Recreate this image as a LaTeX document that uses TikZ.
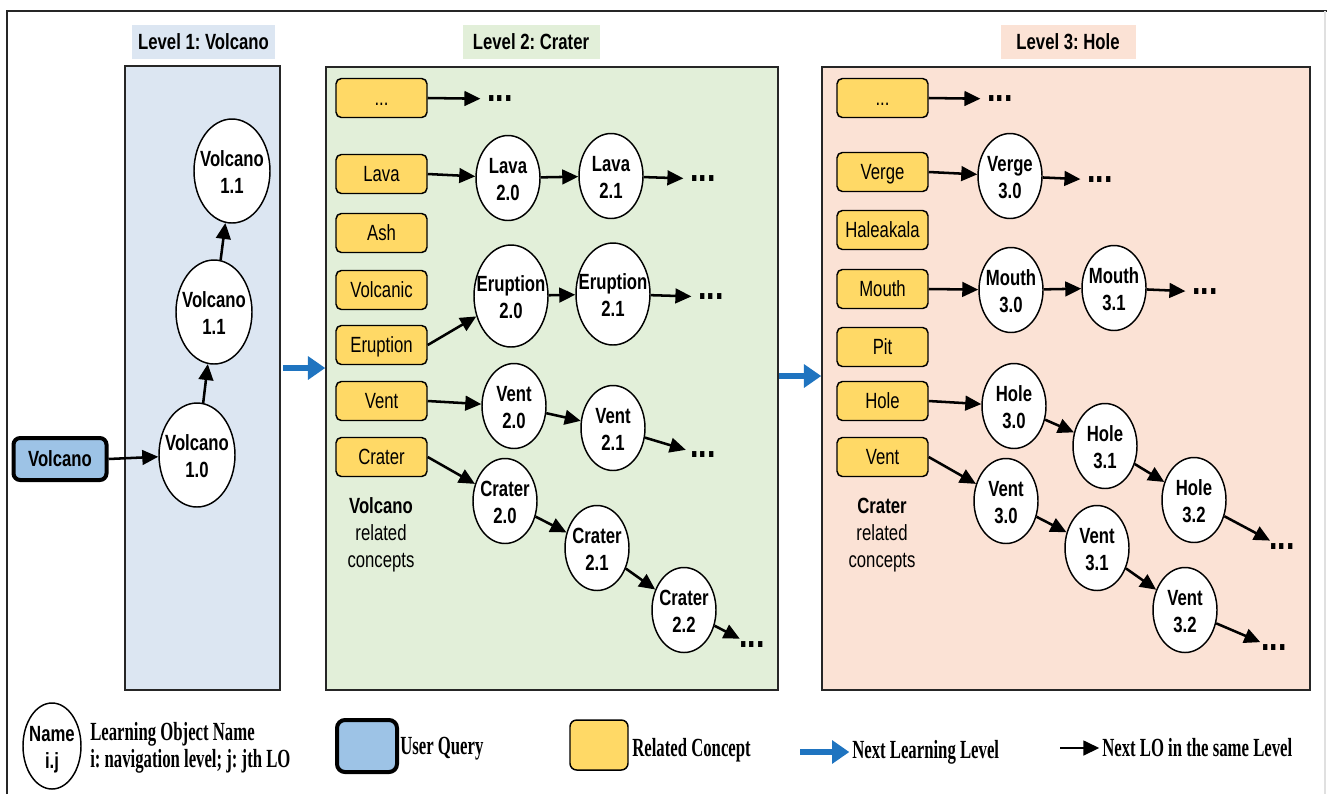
\documentclass[tikz,border=0pt]{standalone}
\usepackage{fontspec}
\setmainfont{Liberation Sans}
\newfontfamily\nar[FakeStretch=0.76]{Liberation Sans}
\newfontfamily\legf[FakeStretch=0.64]{Liberation Serif}
\usetikzlibrary{arrows.meta,shapes.geometric}
\definecolor{qblue}{HTML}{9DC3E6}
\definecolor{cyel}{HTML}{FFD966}
\definecolor{pblue}{HTML}{DCE6F2}
\definecolor{pgreen}{HTML}{E2EFD9}
\definecolor{ppeach}{HTML}{FBE2D5}
\definecolor{nblue}{HTML}{1F74C0}
\newcommand\lotxt[2]{\makebox[0pt]{\raisebox{-0.42em}[0pt][0pt]{\begin{tabular}[c]{@{}c@{}}#1\\#2\end{tabular}}}}
\frenchspacing
\begin{document}
\begin{tikzpicture}[x=0.75pt,y=-0.75pt,
  every node/.style={font=\nar\fontsize{16.5}{20.25}\selectfont},
  panel/.style={rectangle,draw=black!85,line width=1.1pt,inner sep=0},
  ttl/.style={rectangle,inner sep=0,minimum height=25.5pt,font=\nar\bfseries\fontsize{16.5}{20}\selectfont},
  lo/.style={ellipse,draw,line width=1.1pt,fill=white,inner sep=0,
     minimum width=48pt,minimum height=63.75pt,font=\nar\bfseries\fontsize{16.5}{20}\selectfont},
  lobig/.style={lo,minimum width=57pt,minimum height=78pt},
  loer/.style={lo,minimum width=55.5pt,minimum height=76.5pt},
  concept/.style={rectangle,rounded corners=4pt,draw,line width=1.1pt,fill=cyel,inner sep=0,
     minimum width=68.25pt,minimum height=29.25pt,text height=11.8pt,text depth=0pt},
  query/.style={rectangle,rounded corners=5pt,draw,line width=3pt,fill=qblue,inner sep=0},
  dots/.style={inner sep=0,font=\nar\bfseries\fontsize{30}{30}\selectfont},
  arr/.style={-{Triangle[length=12pt,width=11pt]},line width=1.9pt},
  darr/.style={arr,shorten >=5pt},
  barr/.style={-{Triangle[length=13pt,width=17pt]},line width=4.8pt,draw=nblue},
  rel/.style={align=center,inner sep=0},
  leg/.style={inner sep=0,anchor=west,font=\legf\bfseries\fontsize{19.6}{20.25}\selectfont}
]
\useasboundingbox (0,0) rectangle (1327,794);
% outer frame
\draw[line width=1.4pt,black!85] (7,794) -- (7,11) -- (1327,11);
\draw[line width=0.8pt,black!12] (1325,11) -- (1325,794);

% panels
\node[panel,fill=pblue,minimum width=116.25pt,minimum height=468pt] (p1) at (202.5,378) {};
\node[panel,fill=pgreen,minimum width=339pt,minimum height=467.25pt] (p2) at (552,378.5) {};
\node[panel,fill=ppeach,minimum width=366pt,minimum height=467.25pt] (p3) at (1066,378.5) {};

% titles
\node[ttl,fill=pblue,minimum width=107.25pt] (t1) at (203.5,42) {Level 1: Volcano};
\node[ttl,fill=pgreen,minimum width=102.75pt] (t2) at (531,42) {Level 2: Crater};
\node[ttl,fill=ppeach,minimum width=101.25pt] (t3) at (1068,42) {Level 3: Hole};

% next level arrows
\coordinate (b1) at (283,368);
\draw[barr] (b1) -- (b1 -| p2.west);
\coordinate (b2) at (779,376);
\draw[barr] (b2) -- (b2 -| p3.west);

% level 1
\node[query,minimum width=69.75pt,minimum height=31.5pt,font=\nar\bfseries\fontsize{16.5}{20}\selectfont] (q) at (60,459) {Volcano};
\node[lobig] (v10) at (197,455) {\lotxt{Volcano}{1.0}};
\node[lobig] (v11a) at (214,312) {\lotxt{Volcano}{1.1}};
\node[lobig] (v11b) at (232,171) {\lotxt{Volcano}{1.1}};
\draw[arr] (q.east) -- (v10);
\draw[arr] (v10) -- (v11a);
\draw[arr] (v11a) -- (v11b);

% level 2 concepts
\node[concept] (c2a) at (381.5,98) {...};
\node[concept] (c2b) at (381.5,174) {Lava};
\node[concept] (c2c) at (381.5,233) {Ash};
\node[concept] (c2d) at (381.5,290) {Volcanic};
\node[concept] (c2e) at (381.5,345) {Eruption};
\node[concept] (c2f) at (381.5,401) {Vent};
\node[concept] (c2g) at (381.5,457) {Crater};
\node[rel] (rc2) at (381,535) {\textbf{Volcano}\\related\\concepts};

% level 2 LOs
\node[lo] (lava20) at (508,178) {\lotxt{Lava}{2.0}};
\node[lo] (lava21) at (611,176) {\lotxt{Lava}{2.1}};
\node[loer] (er20) at (511,296) {\lotxt{Eruption}{2.0}};
\node[loer] (er21) at (613,294) {\lotxt{Eruption}{2.1}};
\node[lo] (ve20) at (514,406) {\lotxt{Vent}{2.0}};
\node[lo] (ve21) at (613,428) {\lotxt{Vent}{2.1}};
\node[lo] (cr20) at (505,501) {\lotxt{Crater}{2.0}};
\node[lo] (cr21) at (597,548) {\lotxt{Crater}{2.1}};
\node[lo] (cr22) at (684,610) {\lotxt{Crater}{2.2}};
\node[dots] (d2a) at (500,99) {...};
\node[dots] (d2b) at (703,179) {...};
\node[dots] (d2c) at (711,297) {...};
\node[dots] (d2d) at (703,455) {...};
\node[dots] (d2e) at (752,645) {...};

\draw[darr] (c2a.east) -- (d2a);
\draw[arr] (c2b.east) -- (lava20);
\draw[arr] (lava20) -- (lava21);
\draw[darr] (lava21) -- (d2b);
\draw[arr] (c2e.east) -- (er20);
\draw[arr] (er20) -- (er21);
\draw[darr] (er21) -- (d2c);
\draw[arr] (c2f.east) -- (ve20);
\draw[arr] (ve20) -- (ve21);
\draw[darr] (ve21) -- (d2d);
\draw[arr] (c2g.east) -- (cr20);
\draw[arr] (cr20) -- (cr21);
\draw[arr] (cr21) -- (cr22);
\draw[darr] (cr22) -- (d2e);

% level 3 concepts
\node[concept] (c3a) at (882.5,98) {...};
\node[concept] (c3b) at (882.5,172) {Verge};
\node[concept] (c3c) at (882.5,230) {Haleakala};
\node[concept] (c3d) at (882.5,289) {Mouth};
\node[concept] (c3e) at (882.5,347) {Pit};
\node[concept] (c3f) at (882.5,401) {Hole};
\node[concept] (c3g) at (882.5,457) {Vent};
\node[rel] (rc3) at (882,535) {\textbf{Crater}\\related\\concepts};

% level 3 LOs
\node[lo] (vg30) at (1010,176) {\lotxt{Verge}{3.0}};
\node[lo] (mo30) at (1011,290) {\lotxt{Mouth}{3.0}};
\node[lo] (mo31) at (1114,288) {\lotxt{Mouth}{3.1}};
\node[lo] (ho30) at (1014,406) {\lotxt{Hole}{3.0}};
\node[lo] (ho31) at (1105,446) {\lotxt{Hole}{3.1}};
\node[lo] (ho32) at (1194,500) {\lotxt{Hole}{3.2}};
\node[lo] (vt30) at (1006,501) {\lotxt{Vent}{3.0}};
\node[lo] (vt31) at (1097,548) {\lotxt{Vent}{3.1}};
\node[lo] (vt32) at (1185,610) {\lotxt{Vent}{3.2}};
\node[dots] (d3a) at (1000,99) {...};
\node[dots] (d3b) at (1100,180) {...};
\node[dots] (d3c) at (1205,292) {...};
\node[dots] (d3d) at (1282,547) {...};
\node[dots] (d3e) at (1274,648) {...};

\draw[darr] (c3a.east) -- (d3a);
\draw[arr] (c3b.east) -- (vg30);
\draw[darr] (vg30) -- (d3b);
\draw[arr] (c3d.east) -- (mo30);
\draw[arr] (mo30) -- (mo31);
\draw[darr] (mo31) -- (d3c);
\draw[arr] (c3f.east) -- (ho30);
\draw[arr] (ho30) -- (ho31);
\draw[arr] (ho31) -- (ho32);
\draw[darr] (ho32) -- (d3d);
\draw[arr] (c3g.east) -- (vt30);
\draw[arr] (vt30) -- (vt31);
\draw[arr] (vt31) -- (vt32);
\draw[darr] (vt32) -- (d3e);

% legend
\node[lo,minimum width=43.5pt,minimum height=64.5pt] (lg) at (52,746) {\lotxt{Name}{i.j}};
\node[leg,align=left] (lgt) at (90,748) {Learning Object Name\\i: navigation level; j: jth LO};
\node[query,minimum width=45pt,minimum height=39pt,rounded corners=6pt] (lq) at (367,746) {};
\node[leg] (lqt) at (400,749) {User Query};
\node[concept,minimum width=43.5pt,minimum height=37.5pt,rounded corners=5pt] (lc) at (599,745) {};
\node[leg] (lct) at (632,750) {Related Concept};
\coordinate (lb) at (800,752);
\node[leg] (lbt) at (852,752) {Next Learning Level};
\draw[barr,shorten >=2pt] (lb) -- (lbt.west);
\coordinate (la) at (1060,748);
\node[leg] (lat) at (1102,748) {Next LO in the same Level};
\draw[arr,shorten >=2pt] (la) -- (lat.west);
\end{tikzpicture}
\end{document}
